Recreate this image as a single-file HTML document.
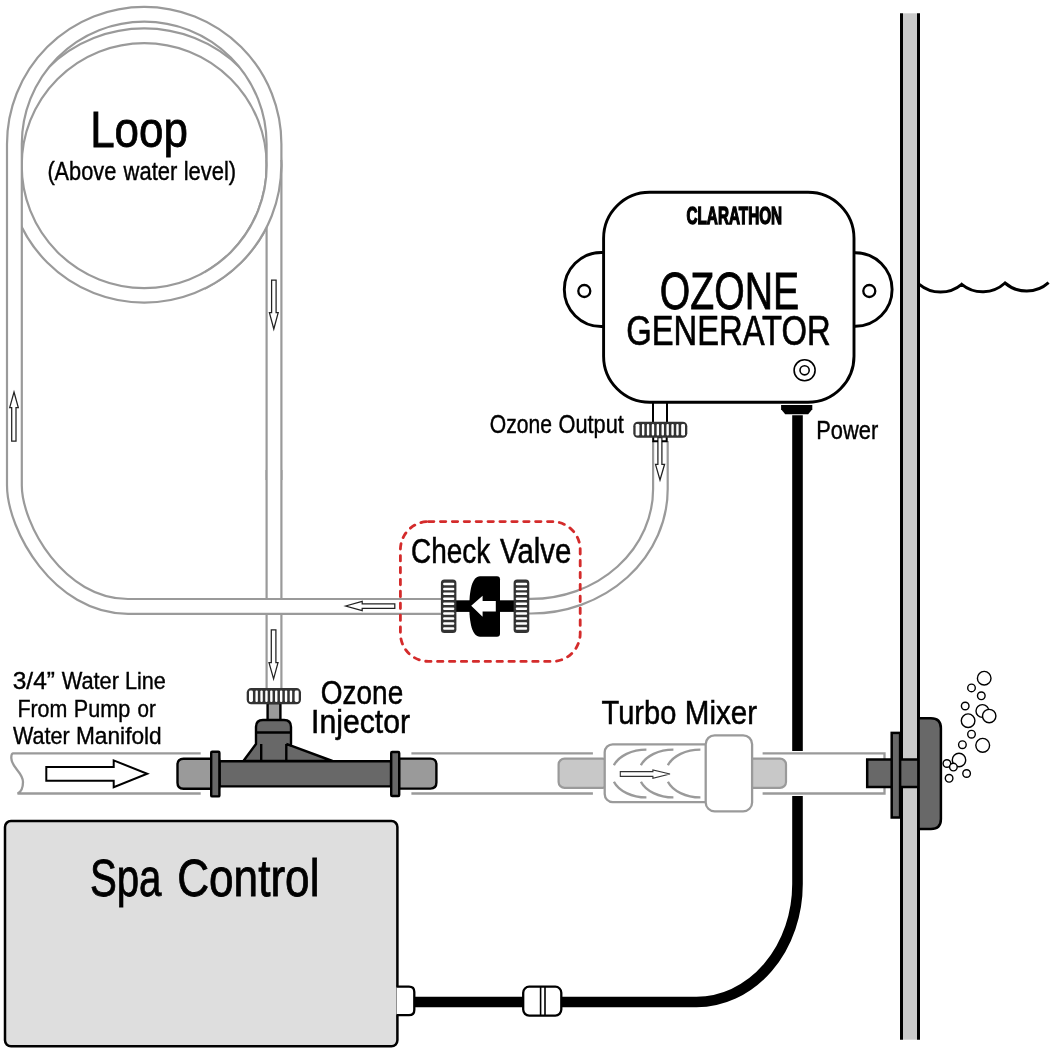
<!DOCTYPE html>
<html><head><meta charset="utf-8">
<style>
html,body{margin:0;padding:0;background:#fff;overflow:hidden;}
svg{display:block;}
svg{will-change:transform;}
text{font-family:"Liberation Sans",sans-serif;fill:#000;}
</style></head>
<body>
<svg width="1050" height="1050" viewBox="0 0 1050 1050">
<rect x="0" y="0" width="1050" height="1050" fill="#fff"/>

<!-- ===== LOOP ===== -->
<g fill="none">
<circle cx="144.2" cy="165.55" r="129.8" stroke="#9a9a9a" stroke-width="16.8"/>
<circle cx="144.2" cy="165.55" r="129.8" stroke="#fff" stroke-width="12.4"/>
<path id="tA" d="M274,470 L274,689" stroke="#9a9a9a" stroke-width="17"/>
<path d="M274,470 L274,689" stroke="#fff" stroke-width="12.6"/>
<path d="M274,480 L274,144 A129.8 129.8 0 0 0 14.4,144 L14.4,485.3 C14.4,527 58.5,606.4 128,606.4 L441,606.4" stroke="#9a9a9a" stroke-width="17"/>
<path d="M274,480 L274,144 A129.8 129.8 0 0 0 14.4,144 L14.4,485.3 C14.4,527 58.5,606.4 128,606.4 L441,606.4" stroke="#fff" stroke-width="12.6"/>
<defs><clipPath id="cr"><rect x="205" y="160" width="120" height="170"/></clipPath></defs>
<g clip-path="url(#cr)">
<circle cx="144.2" cy="165.55" r="129.8" stroke="#9a9a9a" stroke-width="16.8"/>
<circle cx="144.2" cy="165.55" r="129.8" stroke="#fff" stroke-width="12.4"/>
</g>
<!-- check valve to ozone output -->
<path d="M529,606.2 L531,606.2 A129.4 117.2 0 0 0 660.4,489 L660.4,441" stroke="#9a9a9a" stroke-width="16.8"/>
<path d="M529,606.2 L531,606.2 A129.4 117.2 0 0 0 660.4,489 L660.4,441" stroke="#fff" stroke-width="12.4"/>
</g>

<!-- flow arrows in small tubes -->
<g fill="#fff" stroke="#222" stroke-width="1.25" stroke-linejoin="miter">
<path d="M14,392 L18.3,407.7 L16,407.7 L16,441 L11.7,441 L11.7,407.7 L9.7,407.7 Z"/>
<path d="M273.8,329 L278.2,312.6 L276.1,312.6 L276.1,280 L271.6,280 L271.6,312.6 L269.4,312.6 Z"/>
<path d="M345.6,606 L362.2,601.3 L362.2,603.8 L394.8,603.8 L394.8,608.3 L362.2,608.3 L362.2,610.7 Z"/>
<path d="M273.6,678.9 L278,662.7 L275.9,662.7 L275.9,629.8 L271.3,629.8 L271.3,662.7 L269,662.7 Z"/>
<path d="M660,480 L664.6,464.3 L661.9,464.3 L661.9,437.5 L657.9,437.5 L657.9,464.3 L655.5,464.3 Z"/>
</g>

<!-- ===== WALL ===== -->
<rect x="900" y="13.3" width="20" height="1026.4" fill="#cacaca"/>
<rect x="900" y="13.3" width="3" height="1026.4" fill="#000"/>
<rect x="917" y="13.3" width="3" height="1026.4" fill="#000"/>
<path d="M919.3,284.3 A33 33 0 0 0 961.7,284.3 A33 33 0 0 0 1005,283 A33 33 0 0 0 1048.6,282.6" fill="none" stroke="#000" stroke-width="3"/>

<!-- ===== POWER CABLE ===== -->
<path d="M797.5,415.2 L797.5,884 A101 118 0 0 1 696.3,1002 L561,1002" fill="none" stroke="#000" stroke-width="10.6"/>
<line x1="414" y1="1002" x2="524" y2="1002" stroke="#000" stroke-width="10.4"/>

<!-- ===== WATER LINE ===== -->
<g fill="none" stroke="#9a9a9a" stroke-width="2.3">
<path d="M200.7,753.3 L13,753.3 Q11.2,753.6 11.3,758 C11.5,768 23,772 23,782 C23,789 21,792 17.5,793.5 L200.7,793.5"/>
<path d="M411.4,753.3 L592.9,753.3 M411.4,793.5 L592.9,793.5"/>
</g>
<rect x="762" y="751" width="123" height="45" fill="#fff"/>
<path d="M762.6,753.3 L884.5,753.3 L884.5,793.5 L762.6,793.5" fill="none" stroke="#9a9a9a" stroke-width="2.3"/>
<path d="M46.3,767 L113.7,767 L113.7,760.4 L147.2,773.7 L113.7,787.2 L113.7,780.7 L46.3,780.7 Z" fill="#fff" stroke="#000" stroke-width="2"/>

<!-- ===== INJECTOR ===== -->
<g stroke="#000" stroke-width="2.4" stroke-linejoin="round">
<!-- knob -->
<rect x="267.6" y="703" width="12.8" height="18" fill="#9a9a9a"/>
<path d="M243.4,761 L256,744 L256,727 Q256,720 263,720 L284,720 Q291,720 291,727 L291,745.7 L332.4,761 Z" fill="#686868"/>
<path d="M256,732.5 L291,732.5 M261.2,744 L261.2,761 M286.3,744 L286.3,761 M286.3,744 L291,745.7" fill="none"/>
<path d="M219,758.7 L183.5,758.7 Q177.5,758.7 177.5,764.7 L177.5,782.7 Q177.5,788.7 183.5,788.7 L219,788.7 Z" fill="#9a9a9a"/>
<path d="M399,758.6 L430.4,758.6 Q436.4,758.6 436.4,764.6 L436.4,782.6 Q436.4,788.6 430.4,788.6 L399,788.6 Z" fill="#9a9a9a"/>
<rect x="219.6" y="761.2" width="171.4" height="25.2" fill="#686868"/>
<rect x="211.2" y="751.8" width="8.2" height="44.6" rx="1" fill="#686868"/>
<rect x="391.2" y="752" width="8" height="44" rx="1" fill="#686868"/>
</g>
<rect x="246.7" y="688.1" width="54.30" height="16.20" rx="4.5" fill="#333"/>
<g fill="#fff"><rect x="255.45" y="690.6" width="2.4" height="11.40" rx="1"/><rect x="260.35" y="690.6" width="2.4" height="11.40" rx="1"/><rect x="265.25" y="690.6" width="2.4" height="11.40" rx="1"/><rect x="270.15" y="690.6" width="2.4" height="11.40" rx="1"/><rect x="275.05" y="690.6" width="2.4" height="11.40" rx="1"/><rect x="279.95" y="690.6" width="2.4" height="11.40" rx="1"/><rect x="284.85" y="690.6" width="2.4" height="11.40" rx="1"/><rect x="289.75" y="690.6" width="2.4" height="11.40" rx="1"/><rect x="249.00" y="690.6" width="3.95" height="11.40" rx="1.4"/><rect x="294.65" y="690.6" width="4.05" height="11.40" rx="1.4"/></g>

<!-- ===== TURBO MIXER ===== -->
<g stroke="#9a9a9a" stroke-width="2.2">
<rect x="558.6" y="758.6" width="50" height="29.3" rx="6" fill="#c8c8c8"/>
<rect x="730" y="758.6" width="56" height="29.3" rx="6" fill="#c8c8c8"/>
<rect x="604.7" y="744.3" width="120" height="57.8" rx="8" fill="#fff" stroke-width="2.3"/>
<g fill="none" stroke-width="2.4">
<path d="M613.9,765.3 A34.6 24 0 0 1 646.4,749.6 M613.9,781.7 A34.6 24 0 0 0 646.4,797.4"/>
<path d="M640.9,765.3 A34.6 24 0 0 1 673.4,749.6 M640.9,781.7 A34.6 24 0 0 0 673.4,797.4"/>
<path d="M667.9,765.3 A34.6 24 0 0 1 700.4,749.6 M667.9,781.7 A34.6 24 0 0 0 700.4,797.4"/>
</g>
<rect x="705.7" y="735.3" width="46.4" height="76.1" rx="9" fill="#fff" stroke-width="2.3"/>
</g>
<path d="M620.3,771.6 L652.9,771.6 L652.9,770 L670,774 L652.9,778.4 L652.9,776.4 L620.3,776.4 Z" fill="#fff" stroke="#333" stroke-width="1.1"/>

<!-- ===== JET ===== -->
<g stroke="#000" stroke-width="2.5" fill="#686868">
<rect x="867.2" y="759.5" width="51.4" height="27.5"/>
<rect x="891.7" y="732.9" width="8.4" height="84.6"/>
<path d="M918.6,718.3 L930.9,718.3 Q940.9,718.3 940.9,728.3 L940.9,819 Q940.9,829 930.9,829 L918.6,829 Z"/>
</g>
<g fill="#fff" stroke="#000" stroke-width="1.4">
<circle cx="984.2" cy="678.2" r="6.8"/>
<circle cx="971.5" cy="687.9" r="3.8"/>
<circle cx="981.3" cy="695.8" r="3.8"/>
<circle cx="965.2" cy="706" r="3.8"/>
<circle cx="982.4" cy="711" r="6.4"/>
<circle cx="989.2" cy="716.1" r="6.7"/>
<circle cx="968.1" cy="720.7" r="6.8"/>
<circle cx="971.5" cy="734.2" r="3.8"/>
<circle cx="962.4" cy="744.7" r="3.8"/>
<circle cx="982.7" cy="745.3" r="6.9"/>
<circle cx="959" cy="760" r="6.7"/>
<circle cx="946.9" cy="763.5" r="3.8"/>
<circle cx="953.4" cy="767.1" r="3.8"/>
<circle cx="966.6" cy="773.5" r="3.8"/>
<circle cx="949.1" cy="778.3" r="3.8"/>
</g>

<!-- ===== OZONE GENERATOR ===== -->
<g stroke="#000" stroke-width="2.9" fill="#fff">
<path d="M603.6,252.5 L601.3,252.5 A37 37 0 0 0 601.3,326.5 L603.6,326.5"/>
<path d="M854,252.7 L855.3,252.7 A36.8 36.8 0 0 1 855.3,326.3 L854,326.3"/>
<circle cx="584.3" cy="291" r="6" stroke-width="2.3"/>
<circle cx="869.3" cy="291" r="6" stroke-width="2.3"/>
<rect x="603.6" y="192.3" width="250.4" height="210" rx="46"/>
<circle cx="804.6" cy="370.3" r="10.5" stroke-width="1.6"/>
<circle cx="804.6" cy="370.3" r="4.6" stroke-width="1.6"/>
</g>
<path d="M653,402 V422 M667,402 V422" stroke="#000" stroke-width="2"/>
<path d="M653.2,437 V441.2 H658 M661.8,441.2 H666.7 V437" fill="none" stroke="#000" stroke-width="2"/>
<rect x="633.3" y="421.7" width="54.00" height="16.00" rx="4.5" fill="#333"/>
<g fill="#fff"><rect x="641.95" y="423.9" width="2.4" height="11.70" rx="1"/><rect x="646.85" y="423.9" width="2.4" height="11.70" rx="1"/><rect x="651.75" y="423.9" width="2.4" height="11.70" rx="1"/><rect x="656.65" y="423.9" width="2.4" height="11.70" rx="1"/><rect x="661.55" y="423.9" width="2.4" height="11.70" rx="1"/><rect x="666.45" y="423.9" width="2.4" height="11.70" rx="1"/><rect x="671.35" y="423.9" width="2.4" height="11.70" rx="1"/><rect x="676.25" y="423.9" width="2.4" height="11.70" rx="1"/><rect x="635.60" y="423.9" width="3.85" height="11.70" rx="1.4"/><rect x="681.15" y="423.9" width="3.85" height="11.70" rx="1.4"/></g>
<path d="M781.1,404.9 L812.3,404.9 L812.3,409.3 L808.2,414.3 L785.2,414.3 L781.1,409.3 Z" fill="#000"/>

<!-- ===== SPA CONTROL ===== -->
<rect x="5" y="821" width="392.4" height="225.3" rx="6" fill="#dedede" stroke="#000" stroke-width="2.5"/>
<path d="M396.5,986.7 L409,986.7 Q414.3,986.7 414.3,992 L414.3,1010 Q414.3,1015.2 409,1015.2 L396.5,1015.2" fill="#fff" stroke="#000" stroke-width="2.3"/>
<rect x="523.2" y="986.7" width="38.1" height="28.9" rx="6" fill="#fff" stroke="#000" stroke-width="2.3"/>
<path d="M540.6,986.7 V1015.6 M545,986.7 V1015.6" stroke="#000" stroke-width="1.6"/>

<!-- ===== CHECK VALVE ===== -->
<rect x="400.4" y="521.6" width="179.8" height="139.8" rx="28" fill="none" stroke="#d42b2b" stroke-width="2.8" stroke-linecap="round" stroke-dasharray="5.4 6.5" stroke-dashoffset="-0.1"/>
<rect x="456" y="600.3" width="14" height="11.6" fill="#000"/>
<rect x="499" y="600.3" width="15" height="11.6" fill="#000"/>
<path d="M480,576.2 L497,576.2 Q500,576.2 500,579.2 L500,633.7 Q500,636.7 497,636.7 L480,636.7 C472,636.7 469.3,622 469.3,606.5 C469.3,591 472,576.2 480,576.2 Z" fill="#000"/>
<path d="M471.2,605.7 L482.6,595.7 L482.6,601 L495.8,601 L495.8,611.4 L482.6,611.4 L482.6,616.7 Z" fill="#fff"/>
<rect x="440.9" y="579.5" width="15.50" height="53.40" rx="3.5" fill="#333"/>
<g fill="#fff"><rect x="443.1" y="582.72" width="11.20" height="2.5" rx="1"/><rect x="443.1" y="587.66" width="11.20" height="2.5" rx="1"/><rect x="443.1" y="592.60" width="11.20" height="2.5" rx="1"/><rect x="443.1" y="597.54" width="11.20" height="2.5" rx="1"/><rect x="443.1" y="602.48" width="11.20" height="2.5" rx="1"/><rect x="443.1" y="607.42" width="11.20" height="2.5" rx="1"/><rect x="443.1" y="612.36" width="11.20" height="2.5" rx="1"/><rect x="443.1" y="617.30" width="11.20" height="2.5" rx="1"/><rect x="443.1" y="622.24" width="11.20" height="2.5" rx="1"/><rect x="443.1" y="627.18" width="11.20" height="2.5" rx="1"/></g>
<rect x="513.6" y="579.5" width="15.70" height="53.40" rx="3.5" fill="#333"/>
<g fill="#fff"><rect x="515.8" y="582.72" width="11.30" height="2.5" rx="1"/><rect x="515.8" y="587.66" width="11.30" height="2.5" rx="1"/><rect x="515.8" y="592.60" width="11.30" height="2.5" rx="1"/><rect x="515.8" y="597.54" width="11.30" height="2.5" rx="1"/><rect x="515.8" y="602.48" width="11.30" height="2.5" rx="1"/><rect x="515.8" y="607.42" width="11.30" height="2.5" rx="1"/><rect x="515.8" y="612.36" width="11.30" height="2.5" rx="1"/><rect x="515.8" y="617.30" width="11.30" height="2.5" rx="1"/><rect x="515.8" y="622.24" width="11.30" height="2.5" rx="1"/><rect x="515.8" y="627.18" width="11.30" height="2.5" rx="1"/></g>

<!-- ===== TEXT ===== -->
<text id="t1" x="90.13" y="146.7" font-size="50" stroke="#000" stroke-width="0.8" textLength="97.72" lengthAdjust="spacingAndGlyphs">Loop</text>
<text id="t2" x="47.39" y="180" font-size="25.5" stroke="#000" stroke-width="0.41" textLength="68.87" lengthAdjust="spacingAndGlyphs">(Above</text>
<text id="t3" x="123.57" y="180" font-size="25.5" stroke="#000" stroke-width="0.41" textLength="53.73" lengthAdjust="spacingAndGlyphs">water</text>
<text id="t4" x="183.71" y="180" font-size="25.5" stroke="#000" stroke-width="0.41" textLength="52.47" lengthAdjust="spacingAndGlyphs">level)</text>
<text id="t5" x="686.52" y="223.6" font-size="23.7" font-weight="bold" stroke="#000" stroke-width="1.4" textLength="95.57" lengthAdjust="spacingAndGlyphs">CLARATHON</text>
<text id="t6" x="659.82" y="309" font-size="51.5" stroke="#000" stroke-width="0.82" textLength="139.26" lengthAdjust="spacingAndGlyphs">OZONE</text>
<text id="t7" x="626.18" y="344.8" font-size="42.9" stroke="#000" stroke-width="0.69" textLength="204.50" lengthAdjust="spacingAndGlyphs">GENERATOR</text>
<text id="t8" x="489.76" y="433.4" font-size="25" stroke="#000" stroke-width="0.4" textLength="62.25" lengthAdjust="spacingAndGlyphs">Ozone</text>
<text id="t9" x="558.54" y="433.4" font-size="25" stroke="#000" stroke-width="0.4" textLength="65.31" lengthAdjust="spacingAndGlyphs">Output</text>
<text id="t10" x="816.30" y="438.6" font-size="25" stroke="#000" stroke-width="0.4" textLength="61.95" lengthAdjust="spacingAndGlyphs">Power</text>
<text id="t11" x="411.04" y="562.7" font-size="34.5" stroke="#000" stroke-width="0.55" textLength="79.27" lengthAdjust="spacingAndGlyphs">Check</text>
<text id="t12" x="500.06" y="562.7" font-size="34.5" stroke="#000" stroke-width="0.55" textLength="71.24" lengthAdjust="spacingAndGlyphs">Valve</text>
<text id="t13" x="12.74" y="689.2" font-size="24.5" stroke="#000" stroke-width="0.39" textLength="42.20" lengthAdjust="spacingAndGlyphs">3/4”</text>
<text id="t14" x="61.69" y="689.2" font-size="24.5" stroke="#000" stroke-width="0.39" textLength="57.30" lengthAdjust="spacingAndGlyphs">Water</text>
<text id="t15" x="125.00" y="689.2" font-size="24.5" stroke="#000" stroke-width="0.39" textLength="40.89" lengthAdjust="spacingAndGlyphs">Line</text>
<text id="t16" x="17.38" y="717.2" font-size="24.5" stroke="#000" stroke-width="0.39" textLength="49.97" lengthAdjust="spacingAndGlyphs">From</text>
<text id="t17" x="73.72" y="717.2" font-size="24.5" stroke="#000" stroke-width="0.39" textLength="56.47" lengthAdjust="spacingAndGlyphs">Pump</text>
<text id="t18" x="137.44" y="717.2" font-size="24.5" stroke="#000" stroke-width="0.39" textLength="18.33" lengthAdjust="spacingAndGlyphs">or</text>
<text id="t19" x="12.95" y="743.6" font-size="24.5" stroke="#000" stroke-width="0.39" textLength="56.66" lengthAdjust="spacingAndGlyphs">Water</text>
<text id="t20" x="75.98" y="743.6" font-size="24.5" stroke="#000" stroke-width="0.39" textLength="85.77" lengthAdjust="spacingAndGlyphs">Manifold</text>
<text id="t21" x="320.77" y="703.6" font-size="32.5" stroke="#000" stroke-width="0.52" textLength="82.43" lengthAdjust="spacingAndGlyphs">Ozone</text>
<text id="t22" x="310.99" y="733.1" font-size="32.5" stroke="#000" stroke-width="0.52" textLength="99.11" lengthAdjust="spacingAndGlyphs">Injector</text>
<text id="t23" x="601.55" y="723.5" font-size="33.8" stroke="#000" stroke-width="0.54" textLength="74.83" lengthAdjust="spacingAndGlyphs">Turbo</text>
<text id="t24" x="684.87" y="723.5" font-size="33.8" stroke="#000" stroke-width="0.54" textLength="72.24" lengthAdjust="spacingAndGlyphs">Mixer</text>
<text id="t25" x="89.88" y="896" font-size="51" stroke="#000" stroke-width="0.82" textLength="71.53" lengthAdjust="spacingAndGlyphs">Spa</text>
<text id="t26" x="177.21" y="896" font-size="51" stroke="#000" stroke-width="0.82" textLength="142.23" lengthAdjust="spacingAndGlyphs">Control</text>
</svg>
</body></html>
